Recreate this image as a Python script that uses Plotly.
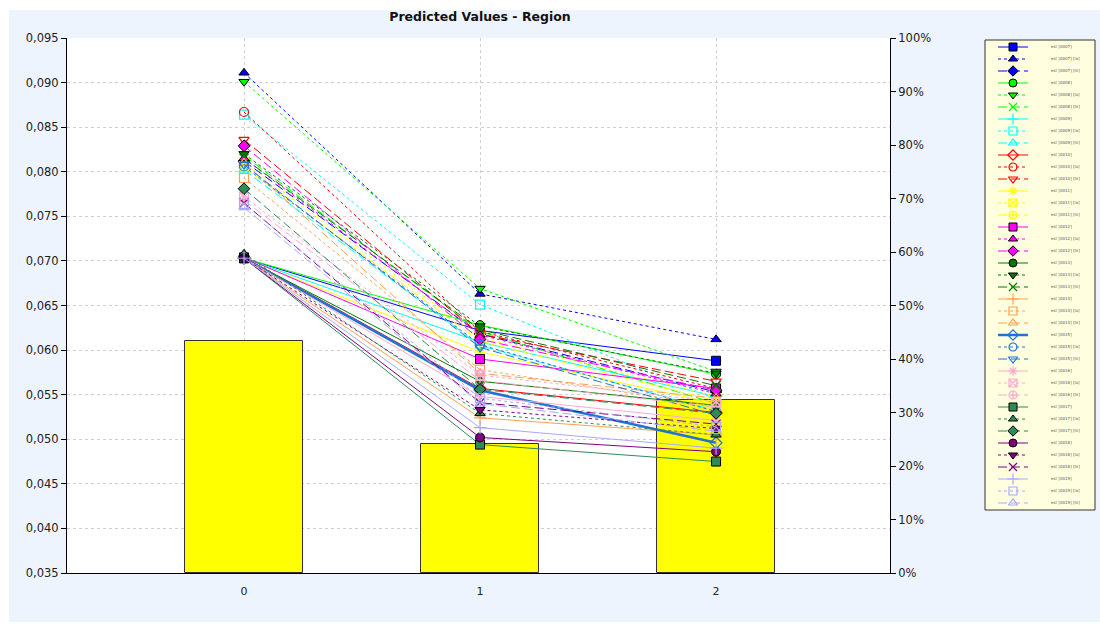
import plotly.graph_objects as go

# Categories on the x axis
categories = [0, 1, 2]

# Share of observations per category (right axis, %)
share_pct = [43.4, 24.1, 32.3]
pct_ticks = list(range(0, 101, 10))
pct_labels = [f"{v}%" for v in pct_ticks]

# Predicted values per model group: [base, lo, hi] variants, one value per category
grp_a = [[0.0703, 0.0622, 0.0588], [0.0911, 0.0663, 0.0612], [0.0812, 0.0618, 0.0553]]
grp_b = [[0.0703, 0.0628, 0.0573], [0.0901, 0.0669, 0.0576], [0.0818, 0.0621, 0.0540]]
grp_c = [[0.0703, 0.0609, 0.0548], [0.0864, 0.0651, 0.0545], [0.0802, 0.0605, 0.0532]]
grp_d = [[0.0704, 0.0557, 0.0530], [0.0867, 0.0621, 0.0557], [0.0836, 0.0618, 0.0565]]
grp_e = [[0.0703, 0.0598, 0.0540], [0.0810, 0.0614, 0.0548], [0.0805, 0.0610, 0.0543]]
grp_f = [[0.0704, 0.0590, 0.0557], [0.0815, 0.0617, 0.0551], [0.0829, 0.0612, 0.0555]]
grp_g = [[0.0703, 0.0565, 0.0538], [0.0820, 0.0627, 0.0574], [0.0815, 0.0623, 0.0560]]
grp_h = [[0.0703, 0.0524, 0.0505], [0.0793, 0.0578, 0.0537], [0.0810, 0.0574, 0.0546]]
grp_i = [[0.0703, 0.0555, 0.0496], [0.0806, 0.0606, 0.0531], [0.0808, 0.0603, 0.0527]]
grp_j = [[0.0703, 0.0548, 0.0521], [0.0772, 0.0572, 0.0542], [0.0768, 0.0566, 0.0536]]
grp_k = [[0.0703, 0.0494, 0.0475], [0.0708, 0.0529, 0.0505], [0.0781, 0.0556, 0.0529]]
grp_l = [[0.0703, 0.0502, 0.0486], [0.0703, 0.0533, 0.0512], [0.0765, 0.0541, 0.0517]]
grp_m = [[0.0703, 0.0513, 0.0490], [0.0764, 0.0546, 0.0514], [0.0760, 0.0540, 0.0509]]

groups = [grp_a, grp_b, grp_c, grp_d, grp_e, grp_f, grp_g, grp_h, grp_i, grp_j, grp_k, grp_l, grp_m]
group_codes = ["0007", "0008", "0009", "0010", "0011", "0012", "0013",
               "0014", "0015", "0016", "0017", "0018", "0019"]
variant_suffix = ["", " [lo]", " [hi]"]

# Styling
group_colors = ["#0000FF", "#00FF00", "#00FFFF", "#FF0000", "#FFFF00", "#FF00FF", "#007A00",
                "#FFA050", "#1E74D6", "#FFAACC", "#2E8B57", "#800080", "#A8A8FF"]
symbol_sets = [
    ["square", "triangle-up", "diamond"],
    ["circle", "triangle-down", "x-thin-open"],
    ["cross-thin-open", "square-open", "triangle-up-open"],
    ["diamond-open", "circle-open", "triangle-down-open"],
    ["asterisk-open", "square-x-open", "circle-cross-open"],
]
group_symbols = [0, 1, 2, 3, 4, 0, 1, 2, 3, 4, 0, 1, 2]
dashes = ["solid", "3px,3px", "9px,4px"]

fig = go.Figure()

# Bars on the percentage axis (drawn underneath the lines)
fig.add_trace(go.Bar(
    x=categories, y=share_pct, width=0.5,
    marker=dict(color="#FFFF00", line=dict(color="#333333", width=1)),
    yaxis="y", xaxis="x", showlegend=False, hoverinfo="skip",
))

legend_rows = []
for gi, grp in enumerate(groups):
    col = group_colors[gi]
    syms = symbol_sets[group_symbols[gi]]
    for vi, vals in enumerate(grp):
        sym = syms[vi]
        is_open = sym.endswith("-open")
        lw = 2.5 if (gi == 8 and vi == 0) else 1
        marker = dict(
            symbol=sym, size=9, color=col,
            line=dict(color=col if is_open else "#000000", width=1.2 if is_open else 1),
        )
        name = f"est [{group_codes[gi]}]{variant_suffix[vi]}"
        fig.add_trace(go.Scatter(
            x=categories, y=vals, mode="lines+markers", name=name,
            line=dict(color=col, width=lw, dash=dashes[vi]),
            marker=marker, xaxis="x", yaxis="y2", showlegend=False, cliponaxis=False,
        ))
        legend_rows.append((name, col, lw, dashes[vi], dict(marker, size=8)))

# Hand-drawn legend panel on its own small subplot
for i, (name, col, lw, dash, marker) in enumerate(legend_rows):
    fig.add_trace(go.Scatter(
        x=[13, 43], y=[i, i], mode="lines", line=dict(color=col, width=lw, dash=dash),
        xaxis="x3", yaxis="y3", showlegend=False, hoverinfo="skip",
    ))
    fig.add_trace(go.Scatter(
        x=[28], y=[i], mode="markers", marker=marker,
        xaxis="x3", yaxis="y3", showlegend=False, hoverinfo="skip", cliponaxis=False,
    ))
fig.add_trace(go.Scatter(
    x=[66] * len(legend_rows), y=list(range(len(legend_rows))),
    mode="text", text=[r[0] for r in legend_rows], textposition="middle right",
    textfont=dict(size=4, color="#555555"),
    xaxis="x3", yaxis="y3", showlegend=False, hoverinfo="skip",
))

main_right = 823 / 1028
font = dict(family="DejaVu Sans", size=11, color="#222222")

fig.update_layout(
    width=1100, height=626,
    margin=dict(l=67, r=5, t=38, b=53),
    paper_bgcolor="#FFFFFF", plot_bgcolor="#FFFFFF",
    separators=",.",
    font=font,
    showlegend=False,
    bargap=0,
    title=dict(text="<b>Predicted Values - Region</b>", x=480 / 1100, xref="container",
               xanchor="center", y=1 - 17 / 626, yref="container", yanchor="middle",
               font=dict(family="DejaVu Sans", size=12.5, color="#111111")),
    xaxis=dict(domain=[0, main_right], range=[-0.75, 2.737], tickvals=categories,
               showgrid=True, gridcolor="#CFCFCF", griddash="3px,3px", gridwidth=1,
               showline=True, linecolor="#000000", linewidth=1, zeroline=False,
               ticks="", ticklabelstandoff=8, tickfont=dict(size=11)),
    yaxis=dict(range=[0, 100], side="right", anchor="x", tickmode="array",
               tickvals=pct_ticks, ticktext=pct_labels,
               showgrid=False, zeroline=False, showline=True,
               linecolor="#000000", linewidth=1, ticks="outside", ticklen=5,
               tickcolor="#000000", tickfont=dict(size=11.5)),
    yaxis2=dict(range=[0.035, 0.095], overlaying="y", side="left", anchor="x",
                tickvals=[0.035 + 0.005 * k for k in range(13)], tickformat=".3f",
                showgrid=True, gridcolor="#CFCFCF", griddash="3px,3px", gridwidth=1,
                zeroline=False, showline=True, linecolor="#000000", linewidth=1,
                ticks="outside", ticklen=5, tickcolor="#000000", tickfont=dict(size=11.5)),
    xaxis3=dict(domain=[(985 - 67) / 1028, 1.0], range=[0, 110], visible=False,
                fixedrange=True, anchor="y3"),
    yaxis3=dict(domain=[(573 - 510) / 535, (573 - 40) / 535],
                range=[(510 - 47) / 12, (40 - 47) / 12], visible=False,
                fixedrange=True, anchor="x3"),
    shapes=[
        dict(type="rect", xref="paper", yref="paper", layer="below",
             x0=(9 - 67) / 1028, x1=(1100 - 67) / 1028,
             y0=(573 - 622) / 535, y1=(573 - 10) / 535,
             fillcolor="#EEF4FD", line=dict(width=0)),
        dict(type="rect", xref="paper", yref="paper", layer="below",
             x0=0, x1=main_right, y0=0, y1=1,
             fillcolor="#FFFFFF", line=dict(width=0)),
        dict(type="rect", xref="x3 domain", yref="y3 domain", layer="below",
             x0=0, x1=1, y0=0, y1=1,
             fillcolor="#FFFFE0", line=dict(color="#333333", width=1)),
    ],
)

fig.write_html("out.html")
